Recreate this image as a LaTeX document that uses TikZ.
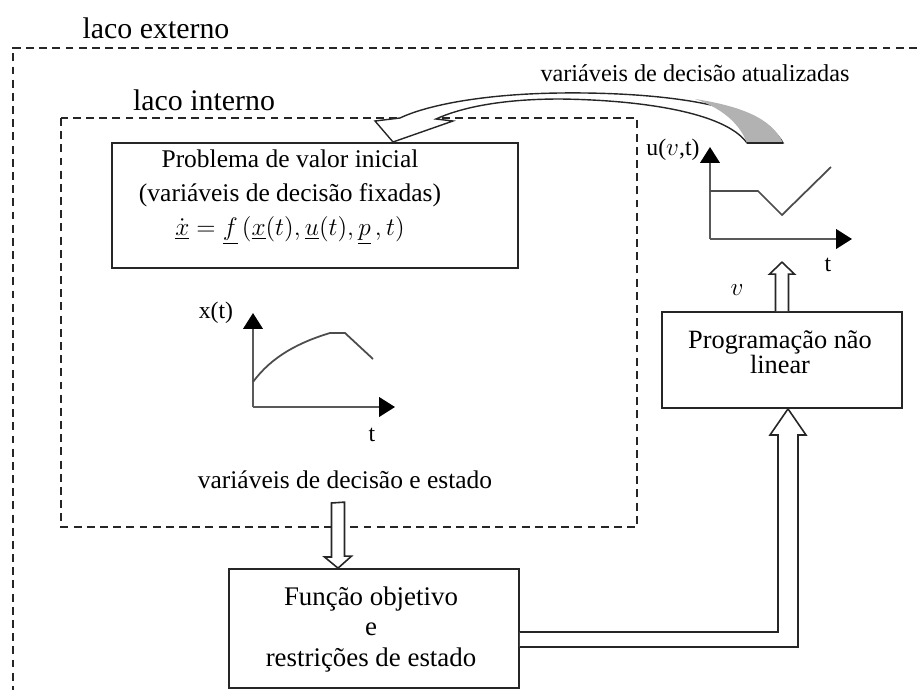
\documentclass[tikz,border=0pt]{standalone}
\usepackage{fontspec}
\setmainfont{Liberation Serif}
\usetikzlibrary{arrows.meta,calc}

\tikzset{
  caixa/.style={draw=black!85, line width=1pt, rectangle, inner sep=0pt},
  laco/.style={draw=black!85, line width=1.1pt, dash pattern=on 4.5pt off 3pt},
  eixo/.style={draw=black!65, line width=1.4pt, -{Triangle[length=9pt,width=11pt,color=black]}},
  curva/.style={draw=black!70, line width=1pt},
  seta/.style={draw=black!85, line width=0.9pt, fill=white, line join=miter},
  texto/.style={font=\fontsize{13.5}{18.5}\selectfont, align=center, inner sep=0pt},
  titulo/.style={font=\fontsize{17}{20}\selectfont, inner sep=0pt},
}

\begin{document}
\begin{tikzpicture}[x=0.02cm, y=-0.02cm]
    \useasboundingbox (0,0) rectangle (917,690);

    % lacos
    \node[titulo] (tExt) at (156,28) {laco externo};
    \draw[laco] (930,48) -- (13,48) -- (13,700);
    \node[titulo] (tInt) at (204,100) {laco interno};
    \draw[laco] (61,118) rectangle (637,527);

    % caixas
    \node[caixa, minimum width=8.12cm, minimum height=2.5cm] (pvi) at (315,205.5) {};
    \node[texto, font=\fontsize{14.5}{19.5}\selectfont] (pvitxt) at (290,197) {Problema de valor inicial\\(variáveis de decisão fixadas)\\
        {\fontsize{13.5}{15}\selectfont$\dot{\underline{x}} = \underline{f}\,(\underline{x}(t),\underline{u}(t),\underline{p}\,,t)$}};
    \node[caixa, minimum width=5.8cm, minimum height=2.38cm] (fobj) at (374,628.5) {};
    \node[texto, font=\fontsize{15.3}{17.5}\selectfont] (fobjtxt) at (371,629.5) {Função objetivo\\e\\restrições de estado};
    \node[caixa, minimum width=4.8cm, minimum height=1.92cm] (prog) at (782,360) {};
    \node[texto, font=\fontsize{15}{14.5}\selectfont] (progtxt) at (780,352.5) {Programação não\\linear};

    \node[texto, font=\fontsize{14.5}{17}\selectfont] (dec) at (345,480) {variáveis de decisão e estado};
    \node[texto, font=\fontsize{13.8}{17}\selectfont] (decAt) at (695,73) {variáveis de decisão atualizadas};

    % grafico x(t)
    \coordinate (ox) at (253,407);
    \draw[eixo] (ox) -- (253,313);
    \draw[eixo] (ox) -- (395,407);
    \draw[curva] (253,382) .. controls (272,356) and (300,342) .. (330,333) -- (345,333) -- (373,359);
    \node[texto] (lx) at (216,313) {x(t)};
    \node[texto] (lt1) at (372,435) {t};

    % grafico u(v,t)
    \coordinate (ou) at (710,239);
    \draw[eixo] (ou) -- (710,147);
    \draw[eixo] (ou) -- (852,239);
    \draw[curva] (710,191) -- (758,191) -- (782,215) -- (831,167);
    \node[texto] (lu) at (673,150) {u($v$,t)};
    \node[texto] (lt2) at (828,265) {t};
    \node[texto] (lv) at (737,290) {$v$};

    % setas largas
    \coordinate (s1) at (338,503);
    \draw[seta] (s1) ++(-6.5,0) -- ++(0,54) -- ++(-7,0) -- (s1 |- fobj.north) -- ++(13.5,-12)
        -- ++(-7,0) -- ++(0,-54) -- cycle;
    \draw[seta] (prog.north) ++(-6.5,0) -- ++(0,-37) -- ++(-6,0) -- ++(12.5,-12) -- ++(12.5,12)
        -- ++(-6,0) -- ++(0,37);
    \coordinate (r1) at (778,632);
    \coordinate (r2) at (798,647);
    \draw[seta] (fobj.east |- r1) -- (r1) -- (778,435) -- (770,435) -- ([xshift=0.12cm]prog.south)
        -- (806,435) -- (798,435) -- (r2) -- (fobj.east |- r2);

    % seta curva
    \coordinate (pontaL) at (393,142);
    \filldraw[seta, line width=0.8pt] (783,143) .. controls (760,100) and (640,92) .. (560,93)
        .. controls (480,94) and (425,106) .. (400,118) -- (375,121) -- (pontaL) -- (453,121)
        -- (436,119) .. controls (460,108) and (500,99) .. (560,99)
        .. controls (640,100) and (725,112) .. (747,143) -- cycle;
    \fill[black!30] (747,143) -- (783,143) .. controls (772,118) and (740,106) .. (695,99)
        .. controls (722,108) and (740,124) .. (747,143) -- cycle;
    \draw[black!85, line width=0.8pt] (747,143) -- (783,143);
\end{tikzpicture}
\end{document}
